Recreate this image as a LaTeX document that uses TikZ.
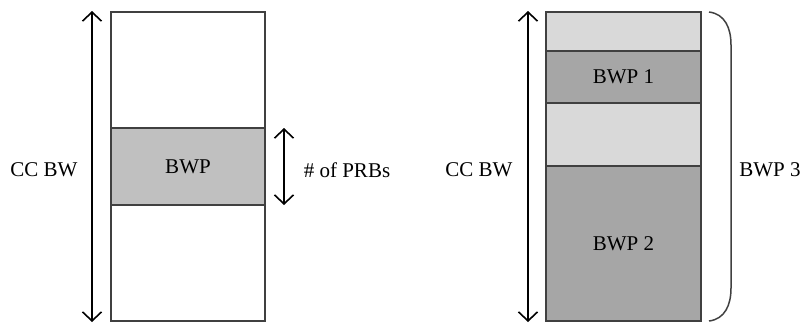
\documentclass[tikz,border=0pt]{standalone}
\usepackage{fontspec}
\setmainfont{Liberation Serif}
\usetikzlibrary{arrows.meta}
\definecolor{bord}{HTML}{404040}
\definecolor{midg}{HTML}{C0C0C0}
\definecolor{lightg}{HTML}{D9D9D9}
\definecolor{darkg}{HTML}{A6A6A6}
\begin{document}
\begin{tikzpicture}[x=1pt,y=-1pt,
  band/.style={draw=bord,line width=1.5pt,inner sep=0pt,outer sep=0pt,anchor=north west,font=\fontsize{21}{24}\selectfont},
  lbl/.style={font=\fontsize{21}{24}\selectfont,inner sep=0pt},
  dim/.style={line width=1.6pt,{Straight Barb[length=9pt,width=19pt,line width=1.6pt]}-{Straight Barb[length=9pt,width=19pt,line width=1.6pt]}}]
\useasboundingbox (0,0) rectangle (803,325);
% left diagram
\node[band,fill=white,minimum width=154pt,minimum height=116pt] (ltop) at (111,12) {};
\node[band,fill=midg,minimum width=154pt,minimum height=77pt] (lbwp) at (111,128) {BWP};
\node[band,fill=white,minimum width=154pt,minimum height=116pt] (lbot) at (111,205) {};
\coordinate (la1) at (92,11);
\coordinate (la2) at (92,322);
\draw[dim] (la1) -- (la2);
\coordinate (pa1) at (284,128);
\coordinate (pa2) at (284,205);
\draw[dim] (pa1) -- (pa2);
\node[lbl] (lcc) at (44,170) {CC BW};
\node[lbl] (prb) at (347,170) {\# of PRBs};
% right diagram
\node[band,fill=lightg,minimum width=155pt,minimum height=39pt] (r1) at (546,12) {};
\node[band,fill=darkg,minimum width=155pt,minimum height=52pt] (r2) at (546,51) {BWP 1};
\node[band,fill=lightg,minimum width=155pt,minimum height=63pt] (r3) at (546,103) {};
\node[band,fill=darkg,minimum width=155pt,minimum height=155pt] (r4) at (546,166) {BWP 2};
\coordinate (ra1) at (528,11);
\coordinate (ra2) at (528,322);
\draw[dim] (ra1) -- (ra2);
\node[lbl] (rcc) at (479,170) {CC BW};
\coordinate (b1) at (709,12);
\coordinate (b2) at (731,45);
\coordinate (b3) at (731,288);
\coordinate (b4) at (709,321);
\draw[bord,line width=1.5pt] (b1) .. controls (725,14) and (731,28) .. (b2) -- (b3) .. controls (731,305) and (725,319) .. (b4);
\node[lbl] (bwp3) at (770,170) {BWP 3};
\end{tikzpicture}
\end{document}
